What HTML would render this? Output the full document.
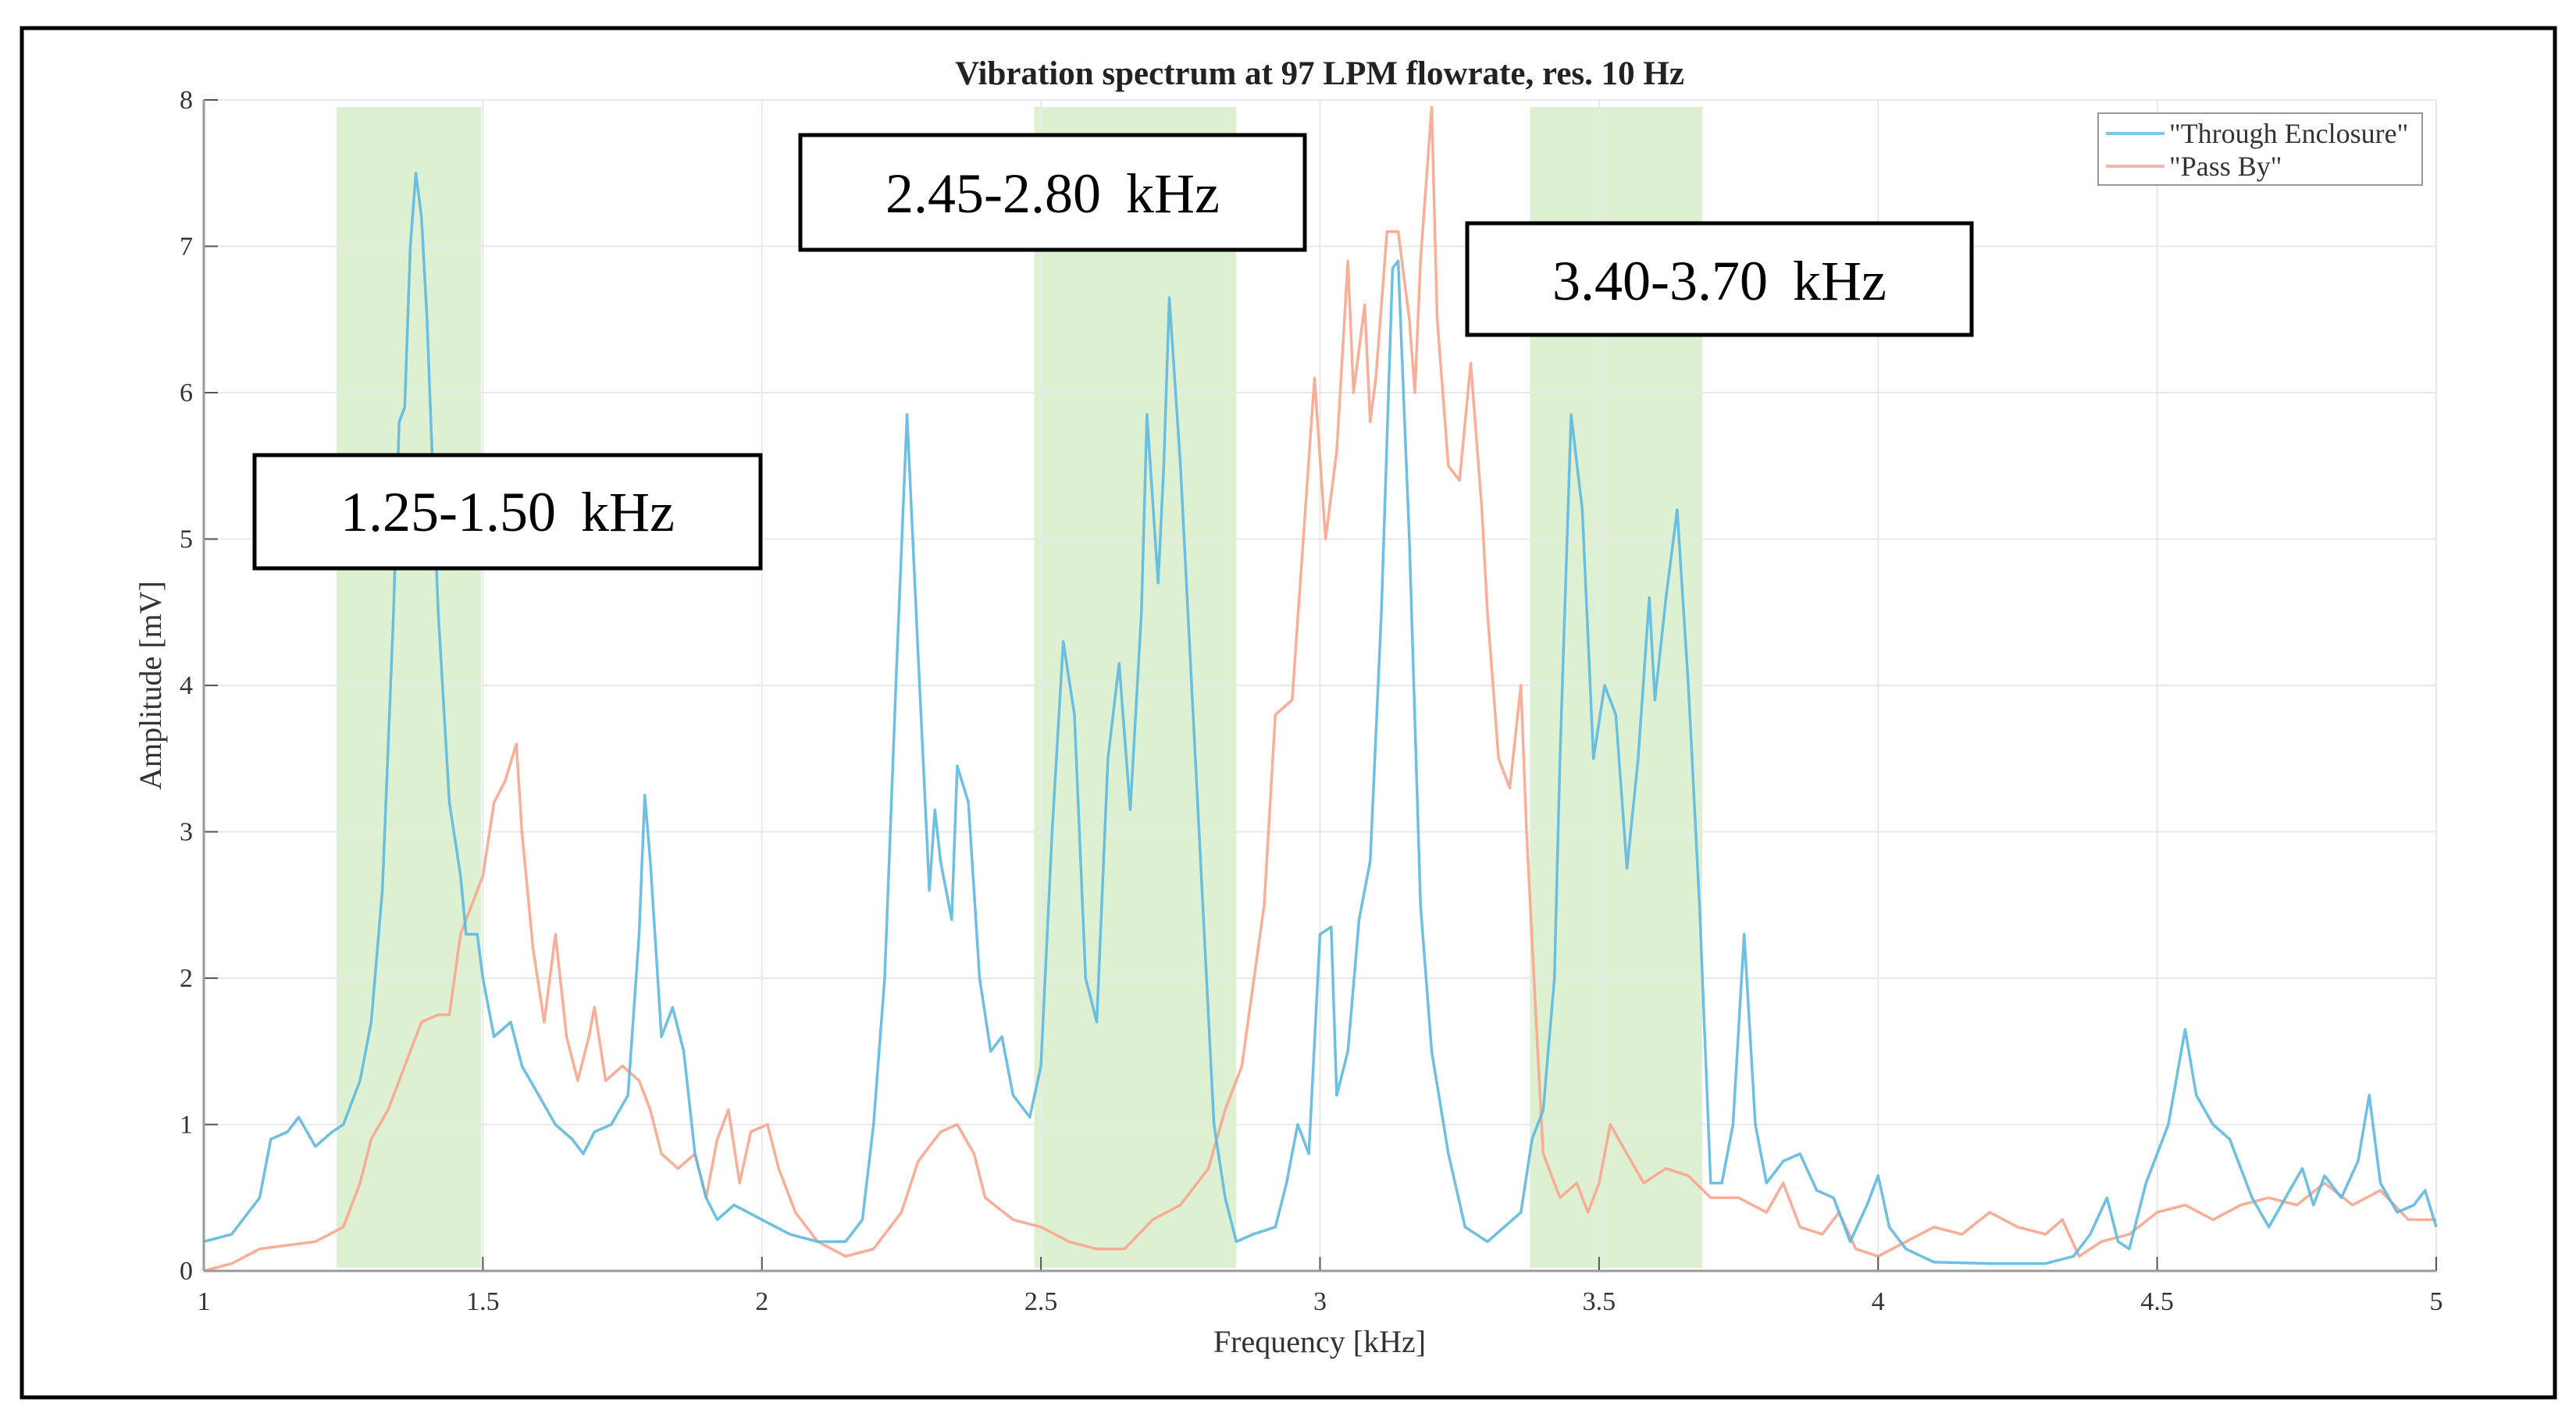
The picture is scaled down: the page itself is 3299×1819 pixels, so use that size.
<!DOCTYPE html>
<html><head><meta charset="utf-8"><style>
html,body{margin:0;padding:0;background:#fff;}
svg{display:block;}
text{font-family:"Liberation Serif",serif;}
</style></head><body>
<svg id="chart" width="3299" height="1819" viewBox="0 0 3299 1819" xmlns="http://www.w3.org/2000/svg">
<rect x="28" y="36" width="3244" height="1754" fill="#fff" stroke="#000" stroke-width="5"/>
<g id="bands"></g>
<g id="grid"></g>
<g id="series"></g>
<g id="axes"></g>
<text x="1690" y="108" text-anchor="middle" font-size="43" font-weight="bold" fill="#222">Vibration spectrum at 97 LPM flowrate, res. 10 Hz</text>
<text x="1690" y="1732" text-anchor="middle" font-size="40" fill="#333">Frequency [kHz]</text>
<text transform="translate(206,878) rotate(-90)" text-anchor="middle" font-size="40" fill="#333">Amplitude [mV]</text>
<g>
<rect x="2687" y="145" width="415" height="92" fill="#fff" stroke="#999" stroke-width="2"/>
<line x1="2697" y1="171" x2="2772" y2="171" stroke="#7cc8ea" stroke-width="4"/>
<text x="2778" y="183" font-size="36" fill="#333">"Through Enclosure"</text>
<line x1="2697" y1="213" x2="2772" y2="213" stroke="#fbb7a3" stroke-width="4"/>
<text x="2778" y="225" font-size="36" fill="#333">"Pass By"</text>
</g>
<g>
<rect x="326" y="583" width="648" height="145" fill="#fff" stroke="#000" stroke-width="5"/>
<text x="650" y="680" text-anchor="middle" font-size="72" word-spacing="14" fill="#000">1.25-1.50 kHz</text>
</g>
<g>
<rect x="1025" y="173" width="646" height="147" fill="#fff" stroke="#000" stroke-width="5"/>
<text x="1348" y="272" text-anchor="middle" font-size="72" word-spacing="14" fill="#000">2.45-2.80 kHz</text>
</g>
<g>
<rect x="1879" y="286" width="646" height="143" fill="#fff" stroke="#000" stroke-width="5"/>
<text x="2202" y="384" text-anchor="middle" font-size="72" word-spacing="14" fill="#000">3.40-3.70 kHz</text>
</g>
</svg>
<script>
const xTicks = [1, 1.5, 2, 2.5, 3, 3.5, 4, 4.5, 5];
const xTickLabels = ["1", "1.5", "2", "2.5", "3", "3.5", "4", "4.5", "5"];
const yTicks = [0, 1, 2, 3, 4, 5, 6, 7, 8];
const yTickLabels = ["0", "1", "2", "3", "4", "5", "6", "7", "8"];
const bandStarts = [1.238, 2.488, 3.376];
const bandEnds = [1.497, 2.85, 3.685];
const blueFreq = [1.0,1.05,1.1,1.12,1.15,1.17,1.2,1.23,1.25,1.28,1.3,1.32,1.34,1.35,1.36,1.37,1.38,1.39,1.40,1.41,1.42,1.44,1.46,1.47,1.49,1.5,1.52,1.55,1.57,1.6,1.63,1.66,1.68,1.7,1.73,1.76,1.78,1.79,1.80,1.82,1.84,1.86,1.88,1.9,1.92,1.95,2.0,2.05,2.1,2.15,2.18,2.2,2.22,2.24,2.26,2.28,2.3,2.31,2.32,2.34,2.35,2.37,2.39,2.41,2.43,2.45,2.48,2.5,2.52,2.54,2.56,2.58,2.60,2.62,2.64,2.66,2.68,2.69,2.71,2.72,2.73,2.75,2.77,2.79,2.81,2.83,2.85,2.88,2.92,2.94,2.96,2.98,3.0,3.02,3.03,3.05,3.07,3.09,3.11,3.13,3.14,3.16,3.18,3.2,3.23,3.26,3.3,3.33,3.36,3.38,3.4,3.42,3.43,3.45,3.47,3.49,3.51,3.53,3.55,3.57,3.59,3.60,3.62,3.64,3.66,3.68,3.7,3.72,3.74,3.76,3.78,3.8,3.83,3.86,3.89,3.92,3.95,3.98,4.0,4.02,4.05,4.1,4.2,4.3,4.35,4.38,4.41,4.43,4.45,4.48,4.5,4.52,4.55,4.57,4.6,4.63,4.67,4.7,4.73,4.76,4.78,4.8,4.83,4.86,4.88,4.9,4.93,4.96,4.98,5.0];
const blueVals = [0.2,0.25,0.5,0.9,0.95,1.05,0.85,0.95,1.0,1.3,1.7,2.6,4.5,5.8,5.9,7.0,7.5,7.2,6.5,5.5,4.5,3.2,2.7,2.3,2.3,2.0,1.6,1.7,1.4,1.2,1.0,0.9,0.8,0.95,1.0,1.2,2.3,3.25,2.8,1.6,1.8,1.5,0.8,0.5,0.35,0.45,0.35,0.25,0.2,0.2,0.35,1.0,2.0,4.0,5.85,4.2,2.6,3.15,2.8,2.4,3.45,3.2,2.0,1.5,1.6,1.2,1.05,1.4,3.0,4.3,3.8,2.0,1.7,3.5,4.15,3.15,4.5,5.85,4.7,5.5,6.65,5.5,4.0,2.5,1.0,0.5,0.2,0.25,0.3,0.6,1.0,0.8,2.3,2.35,1.2,1.5,2.4,2.8,4.5,6.85,6.9,5.0,2.5,1.5,0.8,0.3,0.2,0.3,0.4,0.9,1.1,2.0,3.5,5.85,5.2,3.5,4.0,3.8,2.75,3.5,4.6,3.9,4.6,5.2,4.0,2.5,0.6,0.6,1.0,2.3,1.0,0.6,0.75,0.8,0.55,0.5,0.2,0.45,0.65,0.3,0.15,0.06,0.05,0.05,0.1,0.25,0.5,0.2,0.15,0.6,0.8,1.0,1.65,1.2,1.0,0.9,0.5,0.3,0.5,0.7,0.45,0.65,0.5,0.75,1.2,0.6,0.4,0.45,0.55,0.3];
const orangeFreq = [1.0,1.05,1.1,1.2,1.25,1.28,1.3,1.33,1.36,1.39,1.42,1.44,1.46,1.48,1.5,1.52,1.54,1.56,1.57,1.59,1.61,1.63,1.65,1.67,1.69,1.70,1.72,1.75,1.78,1.8,1.82,1.85,1.88,1.9,1.92,1.94,1.96,1.98,2.01,2.03,2.06,2.1,2.15,2.2,2.25,2.28,2.32,2.35,2.38,2.4,2.45,2.5,2.55,2.6,2.65,2.7,2.75,2.8,2.83,2.86,2.9,2.92,2.95,2.97,2.99,3.01,3.03,3.05,3.06,3.08,3.09,3.1,3.12,3.14,3.16,3.17,3.18,3.2,3.21,3.23,3.25,3.27,3.29,3.3,3.32,3.34,3.36,3.37,3.39,3.4,3.43,3.46,3.48,3.5,3.52,3.55,3.58,3.62,3.66,3.7,3.75,3.8,3.83,3.86,3.9,3.93,3.96,4.0,4.05,4.1,4.15,4.2,4.25,4.3,4.33,4.36,4.4,4.45,4.5,4.55,4.6,4.65,4.7,4.75,4.8,4.85,4.9,4.95,5.0];
const orangeVals = [0.0,0.05,0.15,0.2,0.3,0.6,0.9,1.1,1.4,1.7,1.75,1.75,2.3,2.5,2.7,3.2,3.35,3.6,3.0,2.2,1.7,2.3,1.6,1.3,1.6,1.8,1.3,1.4,1.3,1.1,0.8,0.7,0.8,0.5,0.9,1.1,0.6,0.95,1.0,0.7,0.4,0.2,0.1,0.15,0.4,0.75,0.95,1.0,0.8,0.5,0.35,0.3,0.2,0.15,0.15,0.35,0.45,0.7,1.1,1.4,2.5,3.8,3.9,5.0,6.1,5.0,5.6,6.9,6.0,6.6,5.8,6.1,7.1,7.1,6.5,6.0,6.9,7.95,6.5,5.5,5.4,6.2,5.2,4.5,3.5,3.3,4.0,3.0,1.5,0.8,0.5,0.6,0.4,0.6,1.0,0.8,0.6,0.7,0.65,0.5,0.5,0.4,0.6,0.3,0.25,0.4,0.15,0.1,0.2,0.3,0.25,0.4,0.3,0.25,0.35,0.1,0.2,0.25,0.4,0.45,0.35,0.45,0.5,0.45,0.6,0.45,0.55,0.35,0.35];

const X0 = 261, X1 = 3120, Y0 = 1628, Y1 = 128;
function xs(v){ return X0 + (v - 1) / 4 * (X1 - X0); }
function ys(v){ return Y0 - v / 8 * (Y0 - Y1); }
const NS = "http://www.w3.org/2000/svg";
function mk(tag, attrs, parent){ const e = document.createElementNS(NS, tag); for (const k in attrs) e.setAttribute(k, attrs[k]); parent.appendChild(e); return e; }

const bands = document.getElementById('bands');
for (let i = 0; i < bandStarts.length; i++) {
  const r = mk('rect', {x: xs(bandStarts[i]), y: 137, width: xs(bandEnds[i]) - xs(bandStarts[i]), height: Y0 - 4 - 137, fill: '#ddf1d2'}, bands);
  
  
}
const grid = document.getElementById('grid');
const axes = document.getElementById('axes');
xTicks.forEach((t, i) => {
  const g = mk('line', {x1: xs(t), x2: xs(t), y1: Y1, y2: Y0, stroke: '#e8e8e8', 'stroke-width': 2}, grid);
  
  
  mk('line', {x1: xs(t), x2: xs(t), y1: Y0, y2: Y0 - 18, stroke: '#555', 'stroke-width': 2}, axes);
  const tx = mk('text', {x: xs(t), y: Y0 + 50, 'text-anchor': 'middle', 'font-size': 34, fill: '#333'}, axes);
  tx.textContent = xTickLabels[i];
  
  
});
yTicks.forEach((t, i) => {
  const g = mk('line', {x1: X0, x2: X1, y1: ys(t), y2: ys(t), stroke: '#e8e8e8', 'stroke-width': 2}, grid);
  
  
  mk('line', {x1: X0, x2: X0 + 18, y1: ys(t), y2: ys(t), stroke: '#555', 'stroke-width': 2}, axes);
  const tx = mk('text', {x: X0 - 14, y: ys(t) + 11, 'text-anchor': 'end', 'font-size': 34, fill: '#333'}, axes);
  tx.textContent = yTickLabels[i];
  
  
});
const xa = mk('line', {x1: X0, x2: X1, y1: Y0, y2: Y0, stroke: '#999', 'stroke-width': 3}, axes);


const ya = mk('line', {x1: X0, x2: X0, y1: Y1, y2: Y0, stroke: '#999', 'stroke-width': 3}, axes);



const series = document.getElementById('series');
function drawLine(fr, vals, color, name){
  const d = fr.map((f, i) => (i ? 'L' : 'M') + xs(f).toFixed(1) + ',' + ys(vals[i]).toFixed(1)).join(' ');
  const p = mk('path', {d: d, fill: 'none', stroke: color, 'stroke-width': 3.5, 'stroke-linejoin': 'round', opacity: 0.9}, series);
  
  
}
drawLine(orangeFreq, orangeVals, '#f9a48c', 'pass-by-line');
drawLine(blueFreq, blueVals, '#5db8e0', 'through-enclosure-line');
</script>
</body></html>
